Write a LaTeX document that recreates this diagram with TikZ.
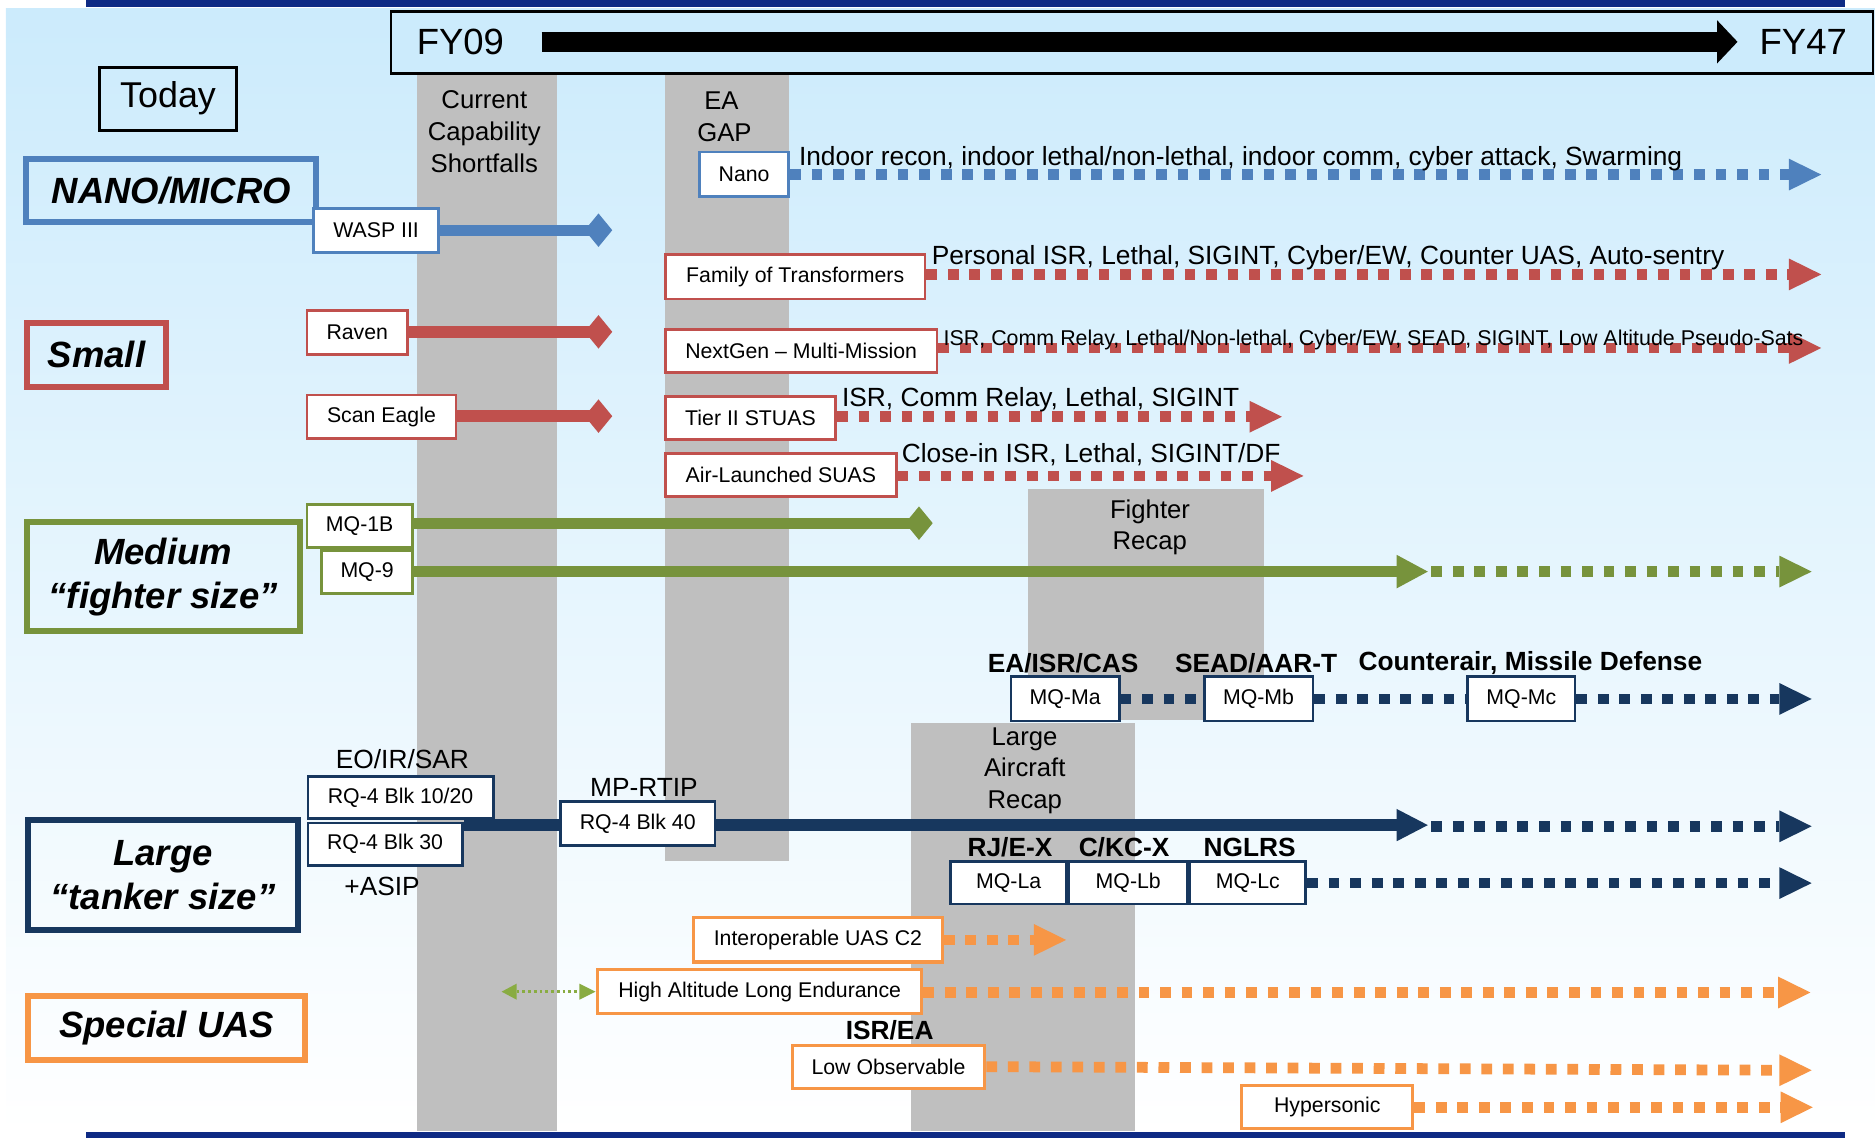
\documentclass[tikz,border=0pt]{standalone}
\usepackage{fontspec}
\setmainfont{Liberation Sans}
\pgfdeclarelayer{bglayer}
\pgfdeclarelayer{linelayer}
\pgfsetlayers{bglayer,linelayer,main}
\definecolor{cblue}{RGB}{79,129,189}
\definecolor{cred}{RGB}{192,80,77}
\definecolor{cgreen}{RGB}{119,147,60}
\definecolor{lgreen}{RGB}{137,172,66}
\definecolor{cnavy}{RGB}{23,55,94}
\definecolor{corange}{RGB}{247,150,70}
\definecolor{cbar}{RGB}{14,42,132}
\definecolor{cgray}{RGB}{191,191,191}
\definecolor{bgtop}{RGB}{204,235,252}
\newcommand\tipR[4][13.3]{\fill[#2] (#3) ++(0,-#1) -- ++(#4,#1) -- ++(-#4,#1) -- cycle;}
\newcommand\tipL[4][13.3]{\fill[#2] (#3) ++(0,-#1) -- ++(-#4,#1) -- ++(#4,#1) -- cycle;}
\newcommand\diam[2]{\fill[#1] (#2) ++(-11.5,0) -- ++(11.5,-14) -- ++(11.5,14) -- ++(-11.5,14) -- cycle;}
\tikzset{
 catbox/.style={draw=#1, line width=5pt, inner sep=0pt, align=center, font=\fontsize{30.5}{37}\selectfont\bfseries\itshape},
 itembox/.style={draw=#1, line width=2.3pt, fill=white, inner sep=0pt, font=\fontsize{17.8}{20}\selectfont},
 coltext/.style={inner sep=0pt, anchor=base, font=\fontsize{21.5}{26}\selectfont},
 lbl/.style={inner sep=0pt, anchor=base west, font=\fontsize{22}{26}\selectfont},
 clbl/.style={inner sep=0pt, anchor=base, font=\fontsize{22}{26}\selectfont},
 blbl/.style={inner sep=0pt, anchor=base, font=\fontsize{22}{26}\selectfont\bfseries},
 dotln/.style={line width=9pt, dash pattern=on 9pt off 9pt},
 solidln/.style={line width=9.5pt},
}
\begin{document}
\begin{tikzpicture}[x=1pt,y=-1pt]
\useasboundingbox (0,0) rectangle (1568,952);
\begin{pgfonlayer}{bglayer}
\shade[top color=bgtop, bottom color=white] (5,7.5) rectangle (1568,948);
\fill[cbar] (72,0) rectangle (1543,6);
\fill[cbar] (72,947) rectangle (1543,952);
\fill[cgray] (349,62) rectangle (466,946);
\fill[cgray] (556,62) rectangle (660,720);
\fill[cgray] (860,409) rectangle (1057,602);
\fill[cgray] (762,605) rectangle (949,946);
\end{pgfonlayer}

% timeline
\draw[line width=2pt, fill=bgtop] (327,9.5) rectangle (1566.5,61.5);
\node[inner sep=0pt, anchor=base, font=\fontsize{30.5}{36}\selectfont] (fy09) at (385,45.6) {FY09};
\node[inner sep=0pt, anchor=base, font=\fontsize{30.5}{36}\selectfont] (fy47) at (1508,45.6) {FY47};
\coordinate (tlA) at (453,35);
\coordinate (tlB) at (1436,35);
\draw[line width=17pt] (tlA) -- (tlB);
\tipR[18]{black}{tlB}{17}

% column captions
\node[coltext] (cc1) at (405,90.6) {Current};
\node[coltext] (cc2) at (405,117.5) {Capability};
\node[coltext] (cc3) at (405,144.4) {Shortfalls};
\node[coltext] (ea1) at (603.3,91.3) {EA};
\node[coltext] (ea2) at (605.8,118.3) {GAP};
\node[coltext] (fr1) at (961.7,433.4) {Fighter};
\node[coltext] (fr2) at (961.5,459.5) {Recap};
\node[coltext] (la1) at (856.8,623.8) {Large};
\node[coltext] (la2) at (857,649.6) {Aircraft};
\node[coltext] (la3) at (857,676.5) {Recap};

% left boxes
\node[draw, line width=2.5pt, minimum width=115pt, minimum height=52.7pt, inner sep=0pt, font=\fontsize{30}{36}\selectfont] (today) at (140.5,82.4) {Today};
\node[catbox=cblue, minimum width=242.5pt, minimum height=53pt] (nanocat) at (143.25,159.5) {NANO/MICRO};
\node[catbox=cred, minimum width=116.4pt, minimum height=53.4pt] (smallcat) at (80.7,296.8) {Small};
\node[catbox=cgreen, minimum width=228pt, minimum height=91.5pt] (medcat) at (136.5,482.3) {Medium\\“fighter size”};
\node[catbox=cnavy, minimum width=225.6pt, minimum height=91.6pt] (largecat) at (136.3,731.7) {Large\\“tanker size”};
\node[catbox=corange, minimum width=231.7pt, minimum height=53.4pt] (specat) at (139.4,859.6) {Special UAS};

% item boxes
\node[itembox=cblue, minimum width=105pt, minimum height=37pt] (wasp) at (314.5,192.7) {WASP III};
\node[itembox=cred, minimum width=84pt, minimum height=36.5pt] (raven) at (298.8,278.2) {Raven};
\node[itembox=cred, minimum width=124.5pt, minimum height=36.5pt] (scan) at (319,348.6) {Scan Eagle};
\node[itembox=cgreen, minimum width=88pt, minimum height=36pt] (mq1b) at (300.8,440) {MQ-1B};
\node[itembox=cgreen, minimum width=76pt, minimum height=36pt] (mq9) at (307,478.3) {MQ-9};
\node[itembox=cblue, minimum width=74.5pt, minimum height=37pt] (nano) at (622.3,145.6) {Nano};
\node[itembox=cred, minimum width=217pt, minimum height=37pt] (fot) at (665,231.5) {Family of Transformers};
\node[itembox=cred, minimum width=227pt, minimum height=36pt] (nextgen) at (670,293.6) {NextGen -- Multi-Mission};
\node[itembox=cred, minimum width=142.5pt, minimum height=36pt] (tier2) at (627.6,349.4) {Tier II STUAS};
\node[itembox=cred, minimum width=193pt, minimum height=36pt] (airl) at (653,397.5) {Air-Launched SUAS};
\node[itembox=cnavy, minimum width=90.5pt, minimum height=37pt] (mqma) at (890.75,584.5) {MQ-Ma};
\node[itembox=cnavy, minimum width=91pt, minimum height=37pt] (mqmb) at (1052.5,584.5) {MQ-Mb};
\node[itembox=cnavy, minimum width=89.5pt, minimum height=37pt] (mqmc) at (1272.25,584.5) {MQ-Mc};
\node[itembox=cnavy, minimum width=155pt, minimum height=35pt] (blk1020) at (335,667) {RQ-4 Blk 10/20};
\node[itembox=cnavy, minimum width=129pt, minimum height=35.5pt] (blk30) at (322,706) {RQ-4 Blk 30};
\node[itembox=cnavy, minimum width=129.4pt, minimum height=36.5pt] (blk40) at (533.3,688.8) {RQ-4 Blk 40};
\node[itembox=cnavy, minimum width=97pt, minimum height=35.6pt] (mqla) at (843.5,738.2) {MQ-La};
\node[itembox=cnavy, minimum width=99pt, minimum height=35.6pt] (mqlb) at (943.5,738.2) {MQ-Lb};
\node[itembox=cnavy, minimum width=97pt, minimum height=35.6pt] (mqlc) at (1043.5,738.2) {MQ-Lc};
\node[itembox=corange, line width=2.6pt, minimum width=208pt, minimum height=37pt] (interop) at (684,786) {Interoperable UAS C2};
\node[itembox=corange, line width=2.6pt, minimum width=271pt, minimum height=36.7pt] (hale) at (635.3,829.3) {High Altitude Long Endurance};
\node[itembox=corange, line width=2.6pt, minimum width=161pt, minimum height=36pt] (lowobs) at (743,892) {Low Observable};
\node[itembox=corange, line width=2.6pt, minimum width=143pt, minimum height=36pt] (hyper) at (1110,926) {Hypersonic};

% labels
\node[lbl] (lnano) at (668,138) {Indoor recon, indoor lethal/non-lethal, indoor comm, cyber attack, Swarming};
\node[lbl] (lfot) at (779,221) {Personal ISR, Lethal, SIGINT, Cyber/EW, Counter UAS, Auto-sentry};
\node[lbl, font=\fontsize{17.9}{20}\selectfont] (lnext) at (789,289) {ISR, Comm Relay, Lethal/Non-lethal, Cyber/EW, SEAD, SIGINT, Low Altitude Pseudo-Sats};
\node[lbl] (ltier) at (704,340) {ISR, Comm Relay, Lethal, SIGINT};
\node[lbl] (lair) at (754,387) {Close-in ISR, Lethal, SIGINT/DF};
\node[clbl] (leo) at (336.5,643) {EO/IR/SAR};
\node[clbl] (lmp) at (538.5,666) {MP-RTIP};
\node[clbl] (lasip) at (319.5,748.5) {+ASIP};
\node[blbl] (lma) at (889,562) {EA/ISR/CAS};
\node[blbl] (lmb) at (1050.5,562) {SEAD/AAR-T};
\node[blbl, anchor=base west] (lmc) at (1136,561) {Counterair, Missile Defense};
\node[blbl] (lla) at (844.6,716.5) {RJ/E-X};
\node[blbl] (llb) at (940,716.5) {C/KC-X};
\node[blbl] (llc) at (1045,716.5) {NGLRS};
\node[blbl] (lisr) at (744,869.5) {ISR/EA};

% connectors
\begin{pgfonlayer}{linelayer}
% today systems with diamond ends
\coordinate (dWasp) at (500.5,192.5);
\draw[solidln,cblue] (wasp.east |- dWasp) -- (dWasp);
\diam{cblue}{dWasp}
\coordinate (dRaven) at (500.5,277.5);
\draw[solidln,cred] (raven.east |- dRaven) -- (dRaven);
\diam{cred}{dRaven}
\coordinate (dScan) at (500.5,348);
\draw[solidln,cred] (scan.east |- dScan) -- (dScan);
\diam{cred}{dScan}
\coordinate (d1b) at (768.5,437.5);
\draw[solidln,cgreen,line width=9pt] (mq1b.east |- d1b) -- (d1b);
\diam{cgreen}{d1b}
% nano / small
\coordinate (tNano) at (1496,146);
\draw[dotln,cblue] (nano.east |- tNano) -- (tNano);
\tipR{cblue}{tNano}{27}
\coordinate (tFot) at (1496,229.5);
\draw[dotln,cred] (fot.east |- tFot) -- (tFot);
\tipR{cred}{tFot}{27}
\coordinate (tNext) at (1496,291);
\draw[dotln,cred] (nextgen.east |- tNext) -- (tNext);
\tipR{cred}{tNext}{27}
\coordinate (tTier) at (1045,348.5);
\draw[dotln,cred] (tier2.east |- tTier) -- (tTier);
\tipR{cred}{tTier}{27}
\coordinate (tAir) at (1063,398);
\draw[dotln,cred] (airl.east |- tAir) -- (tAir);
\tipR{cred}{tAir}{27}
% medium
\coordinate (h9) at (1168,478);
\draw[solidln,cgreen,line width=9pt] (mq9.east |- h9) -- (h9);
\tipR[14]{cgreen}{h9}{26}
\coordinate (d9) at (1197,478);
\coordinate (t9) at (1488,478);
\draw[dotln,cgreen] (d9) -- (t9);
\tipR{cgreen}{t9}{27}
\draw[dotln,cnavy] (mqma.east) -- (mqmb.west);
\draw[dotln,cnavy] (mqmb.east) -- (mqmc.west);
\coordinate (tMc) at (1488,584.5);
\draw[dotln,cnavy] (mqmc.east) -- (tMc);
\tipR{cnavy}{tMc}{27}
% large
\coordinate (hL) at (1168,690);
\draw[solidln,cnavy] (blk30.east |- hL) -- (hL);
\tipR[13.5]{cnavy}{hL}{26}
\coordinate (dL) at (1197,691);
\coordinate (tL) at (1488,691);
\draw[dotln,cnavy] (dL) -- (tL);
\tipR{cnavy}{tL}{27}
\coordinate (tLc) at (1488,738.5);
\draw[dotln,cnavy] (mqlc.east |- tLc) -- (tLc);
\tipR{cnavy}{tLc}{27}
% special
\coordinate (tInter) at (864.5,786);
\draw[dotln,corange] (interop.east) -- (tInter);
\tipR{corange}{tInter}{27}
\coordinate (tHale) at (1487,830);
\draw[dotln,corange] (hale.east |- tHale) -- (tHale);
\tipR{corange}{tHale}{27}
\coordinate (tLow) at (1488,895);
\draw[dotln,corange] (lowobs.east) -- (tLow);
\tipR{corange}{tLow}{27}
\coordinate (tHyp) at (1489,926);
\draw[dotln,corange] (hyper.east) -- (tHyp);
\tipR{corange}{tHyp}{27}
% small green double arrow
\coordinate (gL) at (432,829.3);
\coordinate (gR) at (484.5,829.3);
\draw[lgreen, line width=2.4pt, dash pattern=on 2.4pt off 2.4pt] (gL) -- (gR);
\tipL[6.7]{lgreen}{gL}{12.5}
\tipR[6.7]{lgreen}{gR}{13.5}
\end{pgfonlayer}
\end{tikzpicture}
\end{document}
